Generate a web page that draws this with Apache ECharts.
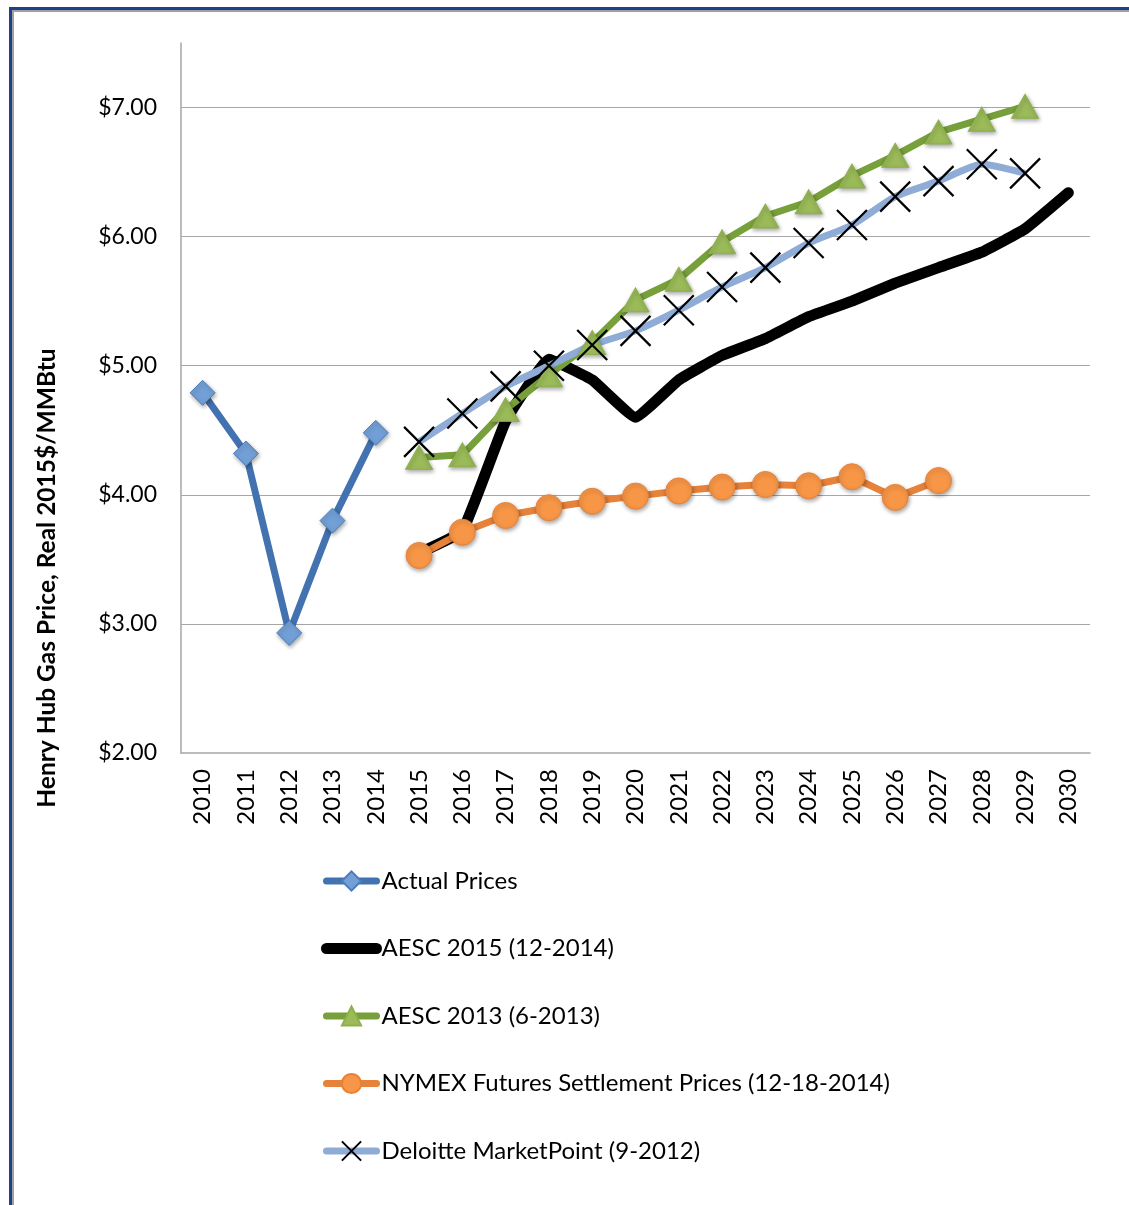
<!DOCTYPE html>
<html><head><meta charset="utf-8">
<script src="https://cdn.jsdelivr.net/npm/echarts@6/dist/echarts.min.js"></script>
<style>
html,body{margin:0;padding:0;background:#fff;width:1129px;height:1205px;overflow:hidden;}
#frame{position:absolute;left:9px;top:7px;width:1130px;height:1196px;border-left:3px solid #1F3F8F;border-top:3px solid #1F3F8F;border-bottom:2px solid #BFBFBF;box-shadow:inset 2px 2px 0 #A0A0A0;}
#chart{position:absolute;left:0;top:0;width:1129px;height:1205px;}
</style></head>
<body>
<div id="frame"></div>
<div id="chart"></div>
<script>
const years = ['2010','2011','2012','2013','2014','2015','2016','2017','2018','2019','2020','2021','2022','2023','2024','2025','2026','2027','2028','2029','2030'];
const actualPrices = [4.79, 4.32, 2.93, 3.80, 4.48, null, null, null, null, null, null, null, null, null, null, null, null, null, null, null, null];
const aesc2015 = [null, null, null, null, null, 3.55, 3.72, 4.57, 5.05, 4.89, 4.60, 4.89, 5.08, 5.21, 5.38, 5.50, 5.64, 5.76, 5.88, 6.06, 6.34];
const aesc2013 = [null, null, null, null, null, 4.29, 4.31, 4.66, 4.93, 5.18, 5.51, 5.67, 5.96, 6.16, 6.27, 6.47, 6.63, 6.81, 6.91, 7.01, null];
const nymex = [null, null, null, null, null, 3.53, 3.71, 3.84, 3.90, 3.95, 3.99, 4.03, 4.06, 4.08, 4.07, 4.14, 3.98, 4.11, null, null, null];
const deloitte = [null, null, null, null, null, 4.41, 4.63, 4.84, 5.00, 5.16, 5.27, 5.43, 5.61, 5.76, 5.95, 6.09, 6.31, 6.43, 6.56, 6.49, null];
const seriesNames = ['Actual Prices','AESC 2015 (12-2014)','AESC 2013 (6-2013)','NYMEX Futures Settlement Prices (12-18-2014)','Deloitte MarketPoint (9-2012)'];
const yTitle = 'Henry Hub Gas Price, Real 2015$/MMBtu';

const FONT = 'Lato, "Liberation Sans", sans-serif';
const chart = echarts.init(document.getElementById('chart'), null, {renderer:'canvas'});
const shadow = {shadowBlur:4, shadowColor:'rgba(0,0,0,0.35)', shadowOffsetX:1, shadowOffsetY:2};
const xPath = 'path://M0,0L10,10M10,0L0,10';
const W = [7, 11, 7, 7, 7];
chart.setOption({
  animation:false,
  backgroundColor:'transparent',
  grid:{left:181, right:39, top:43, bottom:452, containLabel:false},
  xAxis:{type:'category', data:years, boundaryGap:true,
    axisLine:{lineStyle:{color:'#A6A6A6', width:1.5}}, axisTick:{show:false},
    axisLabel:{rotate:90, margin:16, color:'#000', fontFamily:FONT, fontSize:24}},
  yAxis:{type:'value', min:2, max:7.5, interval:1,
    axisLine:{show:true, lineStyle:{color:'#A6A6A6', width:1.5}}, axisTick:{show:false},
    splitLine:{show:true, showMaxLine:false, showMinLine:false, lineStyle:{color:'#A6A6A6', width:1.2}},
    axisLabel:{showMaxLabel:false, margin:24, color:'#000', fontFamily:FONT, fontSize:23,
      formatter:v=>'$'+v.toFixed(2)}},
  legend:{orient:'vertical', left:321, top:869, padding:0, itemWidth:50, itemHeight:24, itemGap:43.5,
    textStyle:{fontFamily:FONT, fontSize:24, color:'#000'},
    data:[
      {name:seriesNames[0], lineStyle:{width:W[0], cap:'round'}},
      {name:seriesNames[1], lineStyle:{width:W[1], cap:'round'}, itemStyle:{opacity:0}},
      {name:seriesNames[2], lineStyle:{width:W[2], cap:'round'}},
      {name:seriesNames[3], lineStyle:{width:W[3], cap:'round'}},
      {name:seriesNames[4], lineStyle:{width:W[4], cap:'round'}}
    ]},
  graphic:[{type:'text', x:47, y:578, rotation:Math.PI/2,
    style:{text:yTitle, fontSize:24.5, fontWeight:'bold', fontFamily:FONT, fill:'#000', align:'center', verticalAlign:'middle'}}],
  series:[
    {name:seriesNames[0], type:'line', data:actualPrices, connectNulls:false,
      lineStyle:{color:'#4372B0', width:W[0]}, symbol:'diamond', symbolSize:25,
      itemStyle:{color:'#729FD6', borderColor:'#4A7EBB', borderWidth:1, ...shadow}},
    {name:seriesNames[1], type:'line', data:aesc2015, showSymbol:false, symbol:'none', smooth:0.1,
      lineStyle:{color:'#000', width:W[1], cap:'round', join:'round'}, itemStyle:{color:'#000'}},
    {name:seriesNames[2], type:'line', data:aesc2013, symbol:'triangle', symbolSize:[27,24],
      lineStyle:{color:'#77A03A', width:W[2]}, itemStyle:{color:'#9BBB59', borderColor:'#8DB04D', borderWidth:1, ...shadow}},
    {name:seriesNames[3], type:'line', data:nymex, symbol:'circle', symbolSize:26,
      lineStyle:{color:'#E7823A', width:W[3]}, itemStyle:{color:'#F79646', borderColor:'#E7823A', borderWidth:1, ...shadow}},
    {name:seriesNames[4], type:'line', data:deloitte, symbol:xPath, symbolSize:30, smooth:0.2,
      lineStyle:{color:'#8EACD6', width:W[4]}, itemStyle:{color:'rgba(0,0,0,0)', borderColor:'#000', borderWidth:2.2}}
  ]
});
</script>
</body></html>
